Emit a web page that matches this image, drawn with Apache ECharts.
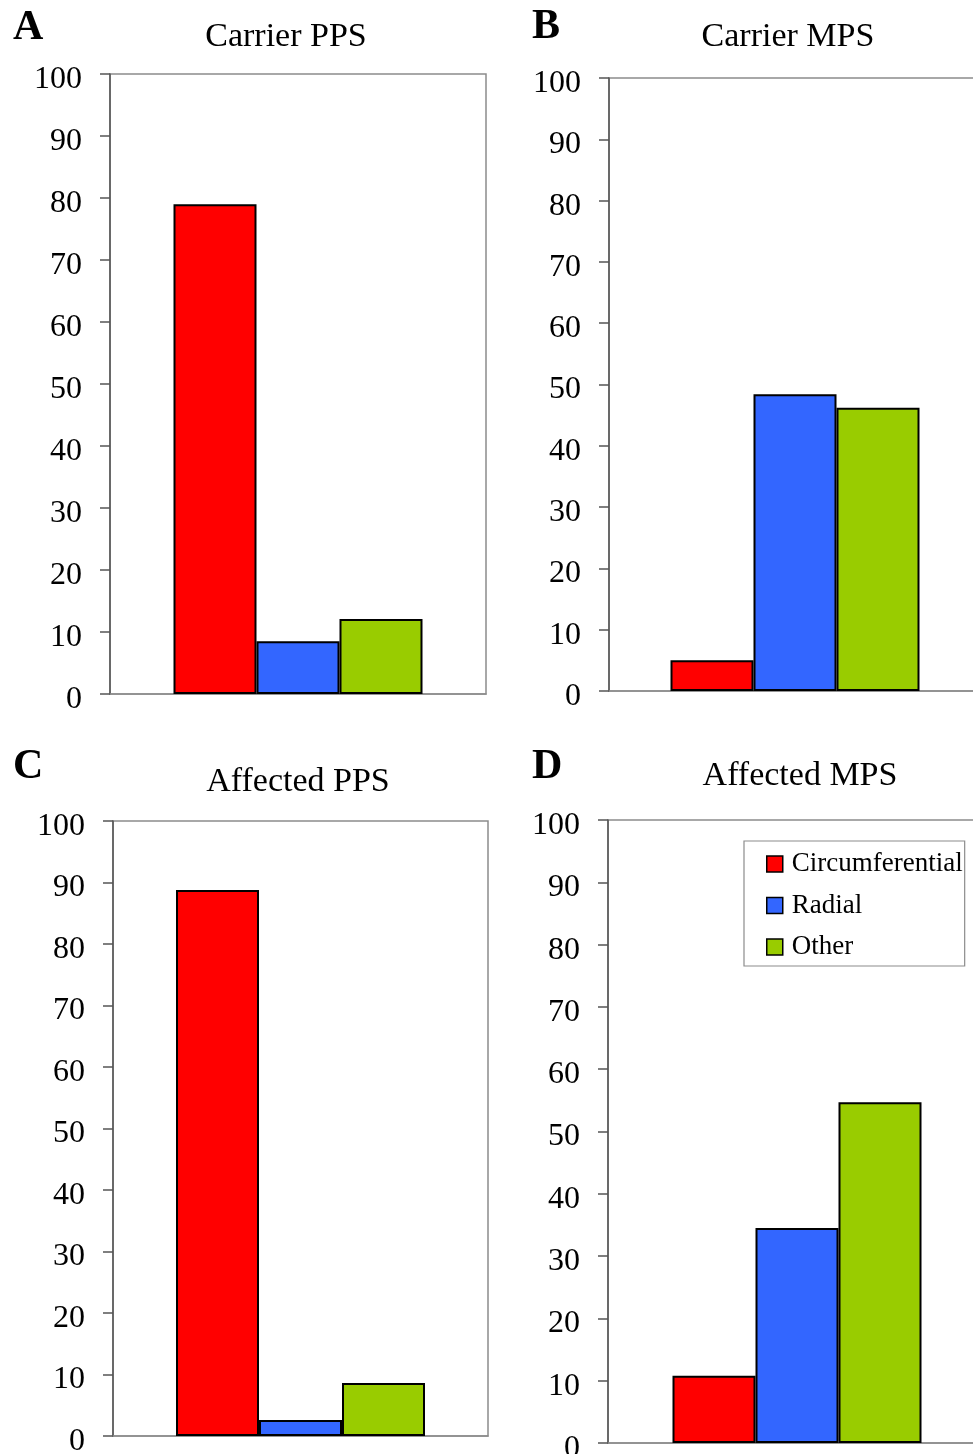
<!DOCTYPE html>
<html>
<head>
<meta charset="utf-8">
<script src="https://cdn.jsdelivr.net/npm/echarts@6/dist/echarts.min.js"></script>
<style>
html,body{margin:0;padding:0;background:#fff;overflow:hidden;}
#chart{width:1000px;height:1454px;}
</style>
</head>
<body>
<div id="chart"></div>
<script>
// ---- data ----
const panelTitles = ['Carrier PPS', 'Carrier MPS', 'Affected PPS', 'Affected MPS'];
const panelLetters = ['A', 'B', 'C', 'D'];
const seriesNames = ['Circumferential', 'Radial', 'Other'];
const circumferential = [79, 5, 88.8, 10.8];
const radial = [8.5, 48.4, 2.6, 34.5];
const other = [12.1, 46.2, 8.6, 54.7];
const yMin = 0, yMax = 100, yStep = 10;

// ---- layout ----
const grids = [
  {left: 110, top: 74, width: 376, height: 620},
  {left: 609, top: 78, width: 372, height: 613},
  {left: 113, top: 821, width: 375, height: 615},
  {left: 608, top: 820, width: 378, height: 623}
];
const titlePos = [[286, 37], [788, 37], [298, 782], [800, 776]];
const letterPos = [[13, 28], [532, 27], [13, 767], [532, 767]];
const colors = ['#FF0000', '#3366FF', '#99CC00'];
const FONT = '"Liberation Serif", "Times New Roman", serif';

const valuesBySeries = [circumferential, radial, other];

const option = {
  animation: false,
  backgroundColor: '#fff',
  grid: grids.map(g => Object.assign({
    show: true, borderColor: '#8c8c8c', borderWidth: 1.5, backgroundColor: 'transparent',
    containLabel: false, outerBoundsMode: 'none'
  }, g)),
  xAxis: grids.map((g, i) => ({
    type: 'category', gridIndex: i, data: [panelTitles[i]],
    axisLine: {show: true, lineStyle: {color: '#8c8c8c', width: 1.5}},
    axisTick: {show: false}, axisLabel: {show: false}, splitLine: {show: false}
  })),
  yAxis: grids.map((g, i) => ({
    type: 'value', gridIndex: i, min: yMin, max: yMax, interval: yStep,
    axisLine: {show: true, lineStyle: {color: '#555', width: 1.5}},
    axisTick: {show: true, inside: false, length: 10, lineStyle: {color: '#555', width: 1.5}},
    axisLabel: {color: '#000', fontFamily: FONT, fontSize: 32, margin: 28, verticalAlign: 'top', lineHeight: 11},
    splitLine: {show: false}
  })),
  legend: {
    data: seriesNames,
    orient: 'vertical', left: 744, top: 841,
    padding: [8, 2, 4, 22], itemGap: 11.5,
    borderColor: '#8c8c8c', borderWidth: 1.2,
    icon: 'rect', itemWidth: 16, itemHeight: 16,
    itemStyle: {borderColor: '#000', borderWidth: 1.5},
    textStyle: {color: '#000', fontFamily: FONT, fontSize: 27, lineHeight: 30, padding: [0, 0, 0, 4]}
  },
  series: [],
  graphic: []
};

for (let p = 0; p < 4; p++) {
  for (let s = 0; s < 3; s++) {
    option.series.push({
      type: 'bar', name: seriesNames[s], xAxisIndex: p, yAxisIndex: p,
      data: [valuesBySeries[s][p]], barWidth: 83, barGap: '0%',
      itemStyle: {color: colors[s], borderColor: '#000', borderWidth: 2}
    });
  }
  option.graphic.push({
    type: 'text', x: titlePos[p][0], y: titlePos[p][1],
    style: {text: panelTitles[p], fill: '#000', font: '34px ' + FONT, textAlign: 'center', textVerticalAlign: 'middle'}
  });
  option.graphic.push({
    type: 'text', x: letterPos[p][0], y: letterPos[p][1],
    style: {text: panelLetters[p], fill: '#000', font: 'bold 42px ' + FONT, textAlign: 'left', textVerticalAlign: 'middle'}
  });
}

const chart = echarts.init(document.getElementById('chart'), null, {renderer: 'canvas'});
chart.setOption(option);
</script>
</body>
</html>
